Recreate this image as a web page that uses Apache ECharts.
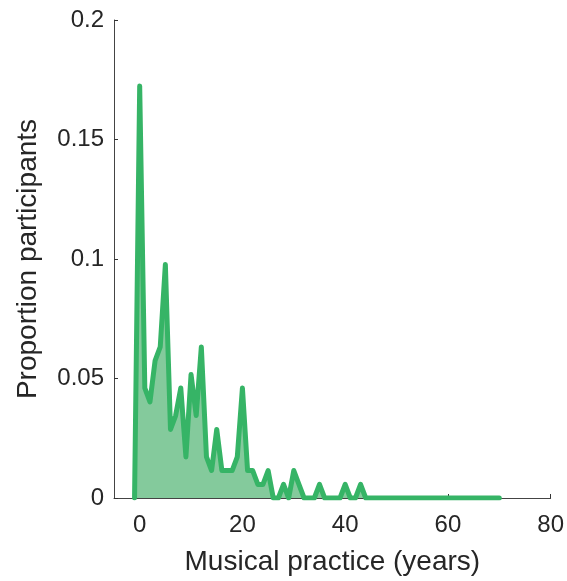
<!DOCTYPE html>
<html>
<head>
<meta charset="utf-8">
<script src="https://cdn.jsdelivr.net/npm/echarts@6/dist/echarts.min.js"></script>
<style>
html,body{margin:0;padding:0;background:#fff;}
#chart{width:567px;height:581px;}
</style>
</head>
<body>
<div id="chart"></div>
<script>
const years = [-1,0,1,2,3,4,5,6,7,8,9,10,11,12,13,14,15,16,17,18,19,20,
  21,22,23,24,25,26,27,28,29,30,31,32,33,34,35,36,37,38,39,40,
  41,42,43,44,45,46,47,48,49,50,51,52,53,54,55,56,57,58,59,60,
  61,62,63,64,65,66,67,68,69,70];
const proportions = [0,0.1724,0.046,0.0402,0.0575,0.0632,0.0977,0.0287,0.0345,0.046,0.0172,0.0517,0.0345,0.0632,0.0172,0.0115,0.0287,0.0115,0.0115,0.0115,0.0172,0.046,
  0.0115,0.0115,0.0057,0.0057,0.0115,0,0,0.0057,0,0.0115,0.0057,0,0,0,0.0057,0,0,0,0,0.0057,
  0,0,0.0057,0,0,0,0,0,0,0,0,0,0,0,0,0,0,0,0,0,
  0,0,0,0,0,0,0,0,0,0];
const xTicks = [0,20,40,60,80];
const yTicks = [0,0.05,0.1,0.15,0.2];
const xName = 'Musical practice (years)';
const yName = 'Proportion participants';

const chart = echarts.init(document.getElementById('chart'), null, {renderer:'canvas'});
const font = 'Liberation Sans';
const txt = '#262626';
chart.setOption({
  animation:false,
  grid:{left:114,right:15,top:20,bottom:79,containLabel:false},
  xAxis:{
    type:'value',min:-5,max:80,
    name:xName,nameLocation:'middle',nameGap:50,
    nameTextStyle:{fontFamily:font,fontSize:28,color:txt},
    axisLine:{show:true,onZero:false,lineStyle:{color:'#444',width:1}},
    axisTick:{show:true,inside:true,length:4,customValues:xTicks,lineStyle:{color:'#333'}},
    axisLabel:{show:true,customValues:xTicks,margin:15,fontFamily:font,fontSize:24,color:txt},
    splitLine:{show:false}
  },
  yAxis:{
    type:'value',min:0,max:0.2,interval:0.05,
    name:yName,nameLocation:'middle',nameGap:72,nameRotate:90,
    nameTextStyle:{fontFamily:font,fontSize:28,color:txt},
    axisLine:{show:true,onZero:false,lineStyle:{color:'#444',width:1}},
    axisTick:{show:true,inside:true,length:4,customValues:yTicks,lineStyle:{color:'#333'}},
    axisLabel:{show:true,customValues:yTicks,margin:10,fontFamily:font,fontSize:24,color:txt,
      formatter:v=>String(+(+v).toFixed(2))},
    splitLine:{show:false}
  },
  series:[{
    type:'line',
    data:years.map((y,i)=>[y,proportions[i]]),
    showSymbol:false,symbol:'none',
    lineStyle:{color:'#36b466',width:5,join:'round',cap:'round'},
    itemStyle:{color:'#36b466'},
    areaStyle:{color:'#84ca9c',opacity:1},
    z:2
  }]
});
</script>
</body>
</html>
